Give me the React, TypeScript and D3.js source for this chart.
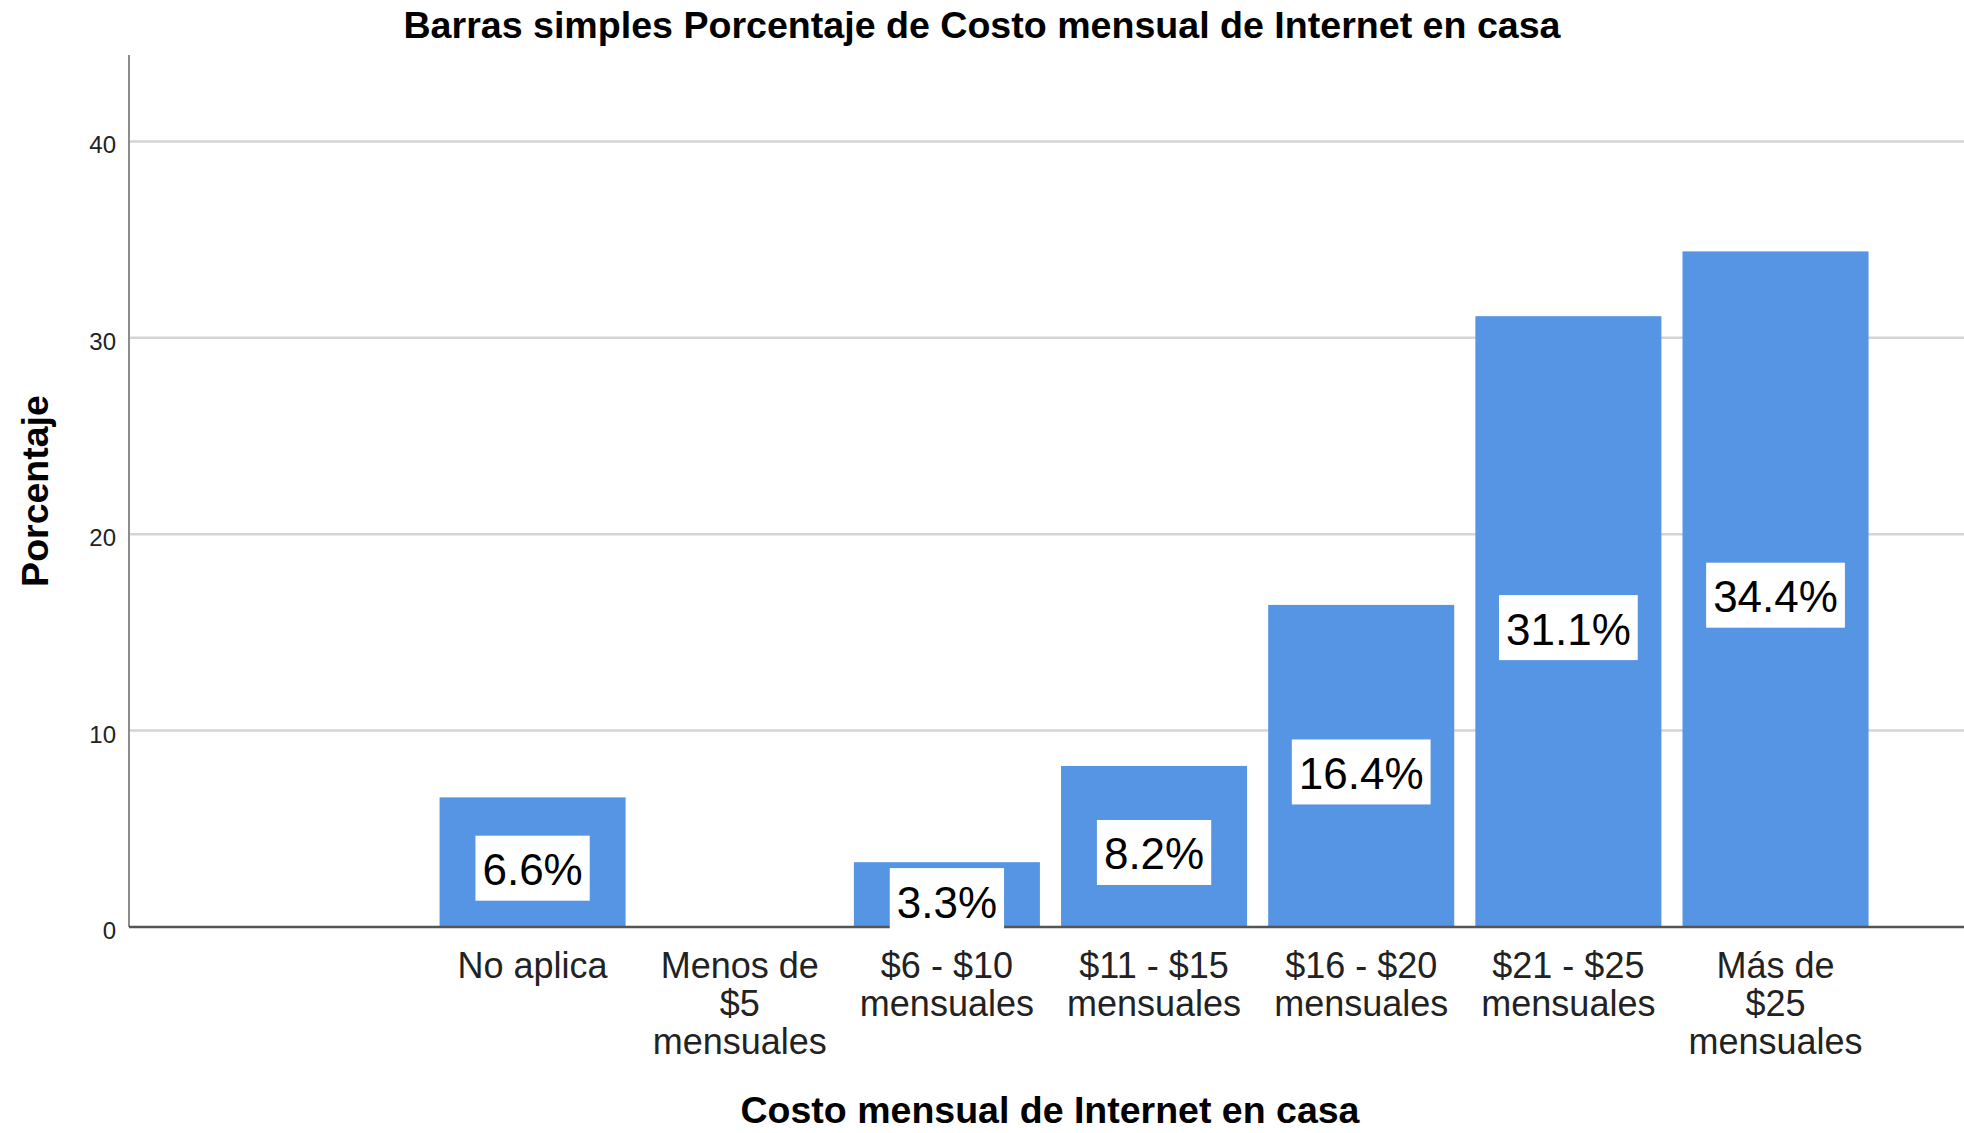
import { useEffect, useRef } from "react";
import * as d3 from "d3";

const WIDTH = 1964;
const HEIGHT = 1133;
const MARGIN = { top: 55, right: 0, bottom: 206, left: 129 };
const FONT = "'Liberation Sans', Arial, sans-serif";

const categories = [
  "",
  "No aplica",
  "Menos de $5 mensuales",
  "$6 - $10 mensuales",
  "$11 - $15 mensuales",
  "$16 - $20 mensuales",
  "$21 - $25 mensuales",
  "Más de $25 mensuales",
];
const percentages = [0, 6.6, 0, 3.3, 8.2, 16.4, 31.1, 34.4];
const yTicks = [0, 10, 20, 30, 40];
const yMax = 44.4;

const title = "Barras simples Porcentaje de Costo mensual de Internet en casa";
const xTitle = "Costo mensual de Internet en casa";
const yTitle = "Porcentaje";

const data = categories.map((c, i) => ({ category: c, value: percentages[i] }));

// wrap tick labels like SPSS does, word by word
function wrap(sel: any, maxWidth: number, lineHeight: number) {
  sel.each(function (this: SVGTextElement) {
    const text = d3.select(this);
    const words = text.text().split(/\s+/).filter((w) => w.length);
    text.text(null);
    let line: string[] = [];
    let tspan = text.append("tspan").attr("x", 0).attr("dy", 0);
    words.forEach((w) => {
      line.push(w);
      tspan.text(line.join(" "));
      if ((tspan.node() as SVGTSpanElement).getComputedTextLength() > maxWidth && line.length > 1) {
        line.pop();
        tspan.text(line.join(" "));
        line = [w];
        tspan = text.append("tspan").attr("x", 0).attr("dy", lineHeight).text(w);
      }
    });
  });
}

const App = () => {
  const ref = useRef<SVGSVGElement>(null);

  useEffect(() => {
    const svg = d3.select(ref.current);
    svg.selectAll("*").remove();

    const boundsWidth = WIDTH - MARGIN.left - MARGIN.right;
    const boundsHeight = HEIGHT - MARGIN.top - MARGIN.bottom;

    const xScale = d3
      .scaleBand()
      .domain(categories)
      .range([0, boundsWidth])
      .paddingInner(0.102)
      .paddingOuter(0.48)
      .align(0.52);

    const yScale = d3.scaleLinear().domain([0, yMax]).range([boundsHeight, 0]);

    const g = svg.append("g").attr("transform", `translate(${MARGIN.left},${MARGIN.top})`);

    // gridlines
    g.selectAll(".grid")
      .data(yTicks.filter((t) => t > 0))
      .join("line")
      .attr("x1", 0)
      .attr("x2", boundsWidth)
      .attr("y1", (d) => yScale(d))
      .attr("y2", (d) => yScale(d))
      .attr("stroke", "#d4d4d4")
      .attr("stroke-width", 2.5);

    // y tick labels
    g.selectAll(".ytick")
      .data(yTicks)
      .join("text")
      .attr("x", -13)
      .attr("y", (d) => yScale(d) + 12)
      .attr("text-anchor", "end")
      .attr("font-family", FONT)
      .attr("font-size", 24)
      .attr("fill", "#222")
      .text((d) => d);

    // bars
    g.selectAll(".bar")
      .data(data.filter((d) => d.value > 0))
      .join("rect")
      .attr("x", (d) => xScale(d.category)!)
      .attr("y", (d) => yScale(d.value))
      .attr("width", xScale.bandwidth())
      .attr("height", (d) => yScale(0) - yScale(d.value))
      .attr("fill", "#5595e3");

    // axes lines
    g.append("line")
      .attr("x1", 0)
      .attr("x2", 0)
      .attr("y1", 0)
      .attr("y2", boundsHeight)
      .attr("stroke", "#8c8c8c")
      .attr("stroke-width", 2);
    g.append("line")
      .attr("x1", 0)
      .attr("x2", boundsWidth)
      .attr("y1", boundsHeight)
      .attr("y2", boundsHeight)
      .attr("stroke", "#555")
      .attr("stroke-width", 2.5);

    // value labels in white boxes
    const labels = g
      .selectAll(".lbl")
      .data(data.filter((d) => d.value > 0))
      .join("g")
      .attr("transform", (d) => {
        const cx = xScale(d.category)! + xScale.bandwidth() / 2;
        const cy = (yScale(d.value) + yScale(0)) / 2 + 6;
        return `translate(${cx},${cy})`;
      });
    const rects = labels.append("rect").attr("fill", "#fff");
    const texts = labels
      .append("text")
      .attr("text-anchor", "middle")
      .attr("y", 17)
      .attr("font-family", FONT)
      .attr("font-size", 44)
      .attr("fill", "#000")
      .text((d) => `${d.value.toFixed(1)}%`);
    texts.each(function (this: SVGTextElement, _d, i) {
      const w = this.getComputedTextLength() + 14;
      d3.select(rects.nodes()[i])
        .attr("x", -w / 2)
        .attr("y", -32.5)
        .attr("width", w)
        .attr("height", 65);
    });

    // x tick labels
    g.selectAll(".xtick")
      .data(categories)
      .join("text")
      .attr("transform", (d) => `translate(${xScale(d)! + xScale.bandwidth() / 2},${boundsHeight + 51})`)
      .attr("text-anchor", "middle")
      .attr("font-family", FONT)
      .attr("font-size", 36)
      .attr("fill", "#222")
      .text((d) => d)
      .call(wrap, 165, 38);

    // titles
    svg
      .append("text")
      .attr("x", WIDTH / 2)
      .attr("y", 38)
      .attr("text-anchor", "middle")
      .attr("font-family", FONT)
      .attr("font-weight", "bold")
      .attr("font-size", 37.6)
      .attr("fill", "#000")
      .text(title);

    svg
      .append("text")
      .attr("x", 1050)
      .attr("y", 1123)
      .attr("text-anchor", "middle")
      .attr("font-family", FONT)
      .attr("font-weight", "bold")
      .attr("font-size", 37.5)
      .attr("fill", "#000")
      .text(xTitle);

    svg
      .append("text")
      .attr("transform", `translate(48,491) rotate(-90)`)
      .attr("text-anchor", "middle")
      .attr("font-family", FONT)
      .attr("font-weight", "bold")
      .attr("font-size", 37.5)
      .attr("fill", "#000")
      .text(yTitle);
  }, []);

  return (
    <div style={{ position: "absolute", left: 0, top: 0 }}>
      <svg ref={ref} width={WIDTH} height={HEIGHT} style={{ display: "block", background: "#fff" }} />
    </div>
  );
};

export default App;
